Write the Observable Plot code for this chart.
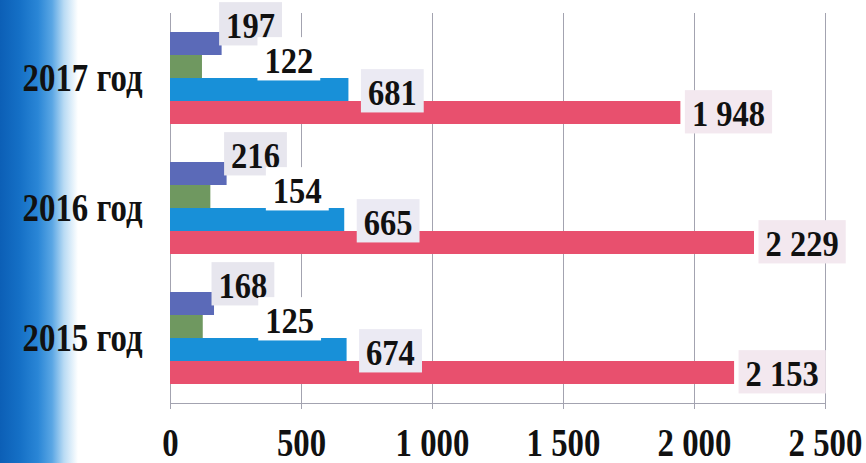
<!DOCTYPE html>
<html>
<head>
<meta charset="utf-8">
<script src="https://cdn.jsdelivr.net/npm/d3@7"></script>
<script src="https://cdn.jsdelivr.net/npm/@observablehq/plot@0.6"></script>
<style>
html, body { margin: 0; padding: 0; }
body {
  width: 866px; height: 463px; overflow: hidden;
  background: linear-gradient(to right, #0c5fb6 0px, #1570c6 20px, #2a86d6 38px, #5aa6e4 52px, #b9dbf4 64px, #ffffff 78px);
}
#chart { position: relative; }
</style>
</head>
<body>
<div id="chart"></div>
<script>
// ---- data ----
const years = ["2017 год", "2016 год", "2015 год"];
const seriesNames = ["Ряд 1", "Ряд 2", "Ряд 3", "Ряд 4"];
const series1 = [197, 216, 168];
const series2 = [122, 154, 125];
const series3 = [681, 665, 674];
const series4 = [1948, 2229, 2153];
const xTicks = [0, 500, 1000, 1500, 2000, 2500];

// ---- styles ----
const barColors = ["#5b6ab8", "#6f9860", "#1890d8", "#e8506e"];
const boxColors = ["#e7e6ee", "#ffffff", "#ebeaf3", "#f3e8ef"];
const gridColor = "#a3a3b0";
const serif = "'Liberation Serif', 'Times New Roman', serif";

const allSeries = [series1, series2, series3, series4];
const data = years.flatMap((year, i) =>
  seriesNames.map((s, j) => ({year, series: s, value: allSeries[j][i]}))
);
const fmt = (d) => d3.format(",")(d).replace(/,/g, " ");

const labelOffsets = [
  {dx: 4, dy: -17},
  {dx: 62, dy: -5},
  {dx: 19, dy: 4},
  {dx: 11, dy: 2}
];

const textMarks = seriesNames.map((s, j) =>
  Plot.text(data.filter((d) => d.series === s), {
    x: "value", y: "series", fy: "year",
    text: (d) => fmt(d.value),
    textAnchor: "start", lineAnchor: "middle",
    dx: labelOffsets[j].dx, dy: labelOffsets[j].dy,
    fontSize: 35, fontWeight: "bold", fontFamily: serif, fill: "#111"
  })
);

const plot = Plot.plot({
  width: 866, height: 463,
  marginLeft: 170, marginRight: 41, marginTop: 13, marginBottom: 60,
  style: {background: "transparent", overflow: "visible", fontFamily: serif},
  x: {domain: [0, 2500], label: null},
  y: {domain: seriesNames, paddingInner: 0, paddingOuter: 0.73, axis: null},
  fy: {domain: years, padding: 0, label: null},
  color: {domain: seriesNames, range: barColors},
  marks: [
    Plot.gridX(xTicks, {stroke: gridColor, strokeOpacity: 1}),
    Plot.ruleX([0], {stroke: gridColor}),
    Plot.frame({anchor: "bottom", facet: "super", stroke: gridColor}),
    Plot.axisX(xTicks, {
      tickFormat: fmt, tickSize: 6, tickPadding: 18, stroke: gridColor, fill: "#111",
      fontSize: 40, fontWeight: "bold", fontFamily: serif, label: null
    }),
    Plot.axisFy({
      anchor: "left", tickSize: 0, tickPadding: 28, fill: "#111",
      fontSize: 40, fontWeight: "bold", fontFamily: serif, label: null
    }),
    Plot.barX(data, {x: "value", y: "series", fy: "year", fill: "series"}),
    ...textMarks
  ]
});

document.getElementById("chart").append(plot);
const svg = plot.tagName.toLowerCase() === "svg" ? plot : plot.querySelector("svg");

// horizontally condense text about its own anchor point
function squeeze(t, s) {
  const tr = t.getAttribute("transform") || "";
  t.setAttribute("transform", (tr + ` scale(${s},1)`).trim());
}

svg.querySelectorAll("g[aria-label='x-axis tick label'] text").forEach((t) => squeeze(t, 0.82));
svg.querySelectorAll("g[aria-label='fy-axis tick label'] text").forEach((t) => squeeze(t, 0.82));

const valueGroups = svg.querySelectorAll("g[aria-label='text']");
valueGroups.forEach((g, gi) => {
  const color = boxColors[gi % 4];
  g.querySelectorAll("text").forEach((t) => {
    const s = 0.93;
    squeeze(t, s);
    const b = t.getBBox();
    const r = document.createElementNS("http://www.w3.org/2000/svg", "rect");
    r.setAttribute("transform", t.getAttribute("transform"));
    r.setAttribute("x", b.x - 7 / s);
    r.setAttribute("y", b.y - 5);
    r.setAttribute("width", b.width + 14 / s);
    r.setAttribute("height", b.height + 5);
    r.setAttribute("fill", color);
    r.setAttribute("stroke", "none");
    t.parentNode.insertBefore(r, t);
  });
});
</script>
</body>
</html>
